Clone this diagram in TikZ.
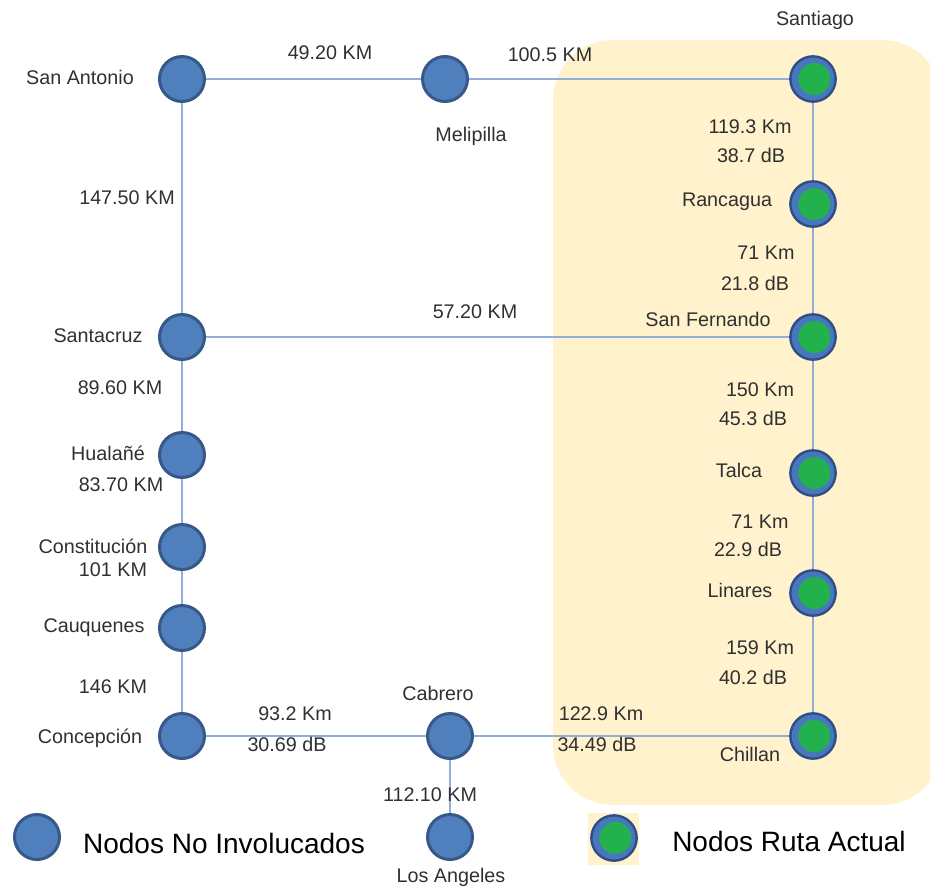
\documentclass[tikz,border=0pt]{standalone}
\usepackage{fontspec}
\setmainfont{Liberation Sans}
\definecolor{beige}{HTML}{FFF2CC}
\definecolor{linkc}{HTML}{92AED8}
\definecolor{nfill}{HTML}{4F7FBC}
\definecolor{nborder}{HTML}{36598A}
\definecolor{gring}{HTML}{4877BE}
\definecolor{gborder}{HTML}{2D4F86}
\definecolor{ggreen}{HTML}{22B14C}
\definecolor{txt}{HTML}{303030}
\begin{document}
\begin{tikzpicture}[x=0.75pt,y=-0.75pt,
  bnode/.style={circle, minimum size=33.75pt, inner sep=0pt, fill=nfill, draw=nborder, line width=2.25pt},
  gnode/.style={circle, minimum size=34pt, inner sep=0pt, fill=gring, draw=gborder, line width=1.8pt,
    path picture={\fill[ggreen] ([xshift=1pt]path picture bounding box.center) circle (12pt);}},
  link/.style={draw=linkc, line width=1.9pt},
  lbl/.style={font=\fontsize{14.8}{17}\selectfont, text=txt, inner sep=0pt},
  leg/.style={font=\fontsize{21}{25}\selectfont, text=black, inner sep=0pt}]
\useasboundingbox (0,0) rectangle (930,890);
% highlighted region
\fill[beige, rounded corners=45pt] (553,40) rectangle (942,805);
\fill[beige] (588,813) rectangle (639,865);

% nodes
\node[bnode] (sanantonio) at (182,79) {};
\node[bnode] (melipilla) at (445,79) {};
\node[gnode] (santiago) at (813,79) {};
\node[gnode] (rancagua) at (813,204) {};
\node[gnode] (sanfernando) at (813,337) {};
\node[gnode] (talca) at (813,473) {};
\node[gnode] (linares) at (813,593) {};
\node[gnode] (chillan) at (813,736) {};
\node[bnode] (santacruz) at (182,337) {};
\node[bnode] (hualane) at (182,455) {};
\node[bnode] (constitucion) at (182,547) {};
\node[bnode] (cauquenes) at (182,628) {};
\node[bnode] (concepcion) at (182,736) {};
\node[bnode] (cabrero) at (450,736) {};
\node[bnode] (losangeles) at (450,837) {};
\node[bnode] (legb) at (37,837) {};
\node[gnode] (legg) at (614,838) {};

% links
\draw[link] (sanantonio) -- (melipilla);
\draw[link] (melipilla) -- (santiago);
\draw[link] (santiago) -- (rancagua);
\draw[link] (rancagua) -- (sanfernando);
\draw[link] (sanfernando) -- (talca);
\draw[link] (talca) -- (linares);
\draw[link] (linares) -- (chillan);
\draw[link] (sanantonio) -- (santacruz);
\draw[link] (santacruz) -- (sanfernando);
\draw[link] (santacruz) -- (hualane);
\draw[link] (hualane) -- (constitucion);
\draw[link] (constitucion) -- (cauquenes);
\draw[link] (cauquenes) -- (concepcion);
\draw[link] (concepcion) -- (cabrero);
\draw[link] (cabrero) -- (chillan);
\draw[link] (cabrero) -- (losangeles);

% node labels
\node[lbl] (tsanantonio) at (80,77) {San Antonio};
\node[lbl] (tmelipilla) at (471,136) {Melipilla};
\node[lbl] (tsantiago) at (815,20) {Santiago};
\node[lbl] (trancagua) at (727,202) {Rancagua};
\node[lbl] (tsanfernando) at (708,319) {San Fernando};
\node[lbl] (ttalca) at (739,470) {Talca};
\node[lbl] (tlinares) at (740,590) {Linares};
\node[lbl] (tchillan) at (750,754) {Chillan};
\node[lbl] (tsantacruz) at (98,336) {Santacruz};
\node[lbl] (thualane) at (108,453) {Hualañé};
\node[lbl] (tconstitucion) at (93,546) {Constitución};
\node[lbl] (tcauquenes) at (94,628) {Cauquenes};
\node[lbl] (tconcepcion) at (90,738) {Concepción};
\node[lbl] (tcabrero) at (438,693) {Cabrero};
\node[lbl] (tlosangeles) at (451,877) {Los Angeles};

% distance labels
\node[lbl] (d1) at (330,53) {49.20 KM};
\node[lbl] (d2) at (550,55) {100.5 KM};
\node[lbl] (d3) at (127,198) {147.50 KM};
\node[lbl] (d4) at (475,312) {57.20 KM};
\node[lbl] (d5) at (120,388) {89.60 KM};
\node[lbl] (d6) at (121,485) {83.70 KM};
\node[lbl] (d7) at (113,570) {101 KM};
\node[lbl] (d8) at (113,687) {146 KM};
\node[lbl] (d9) at (430,795) {112.10 KM};
\node[lbl] (e1a) at (750,127) {119.3 Km};
\node[lbl] (e1b) at (751,155) {38.7 dB};
\node[lbl] (e2a) at (766,253) {71 Km};
\node[lbl] (e2b) at (755,283) {21.8 dB};
\node[lbl] (e3a) at (760,390) {150 Km};
\node[lbl] (e3b) at (753,418) {45.3 dB};
\node[lbl] (e4a) at (760,522) {71 Km};
\node[lbl] (e4b) at (748,549) {22.9 dB};
\node[lbl] (e5a) at (760,648) {159 Km};
\node[lbl] (e5b) at (753,677) {40.2 dB};
\node[lbl] (e6a) at (601,714) {122.9 Km};
\node[lbl] (e6b) at (597,744) {34.49 dB};
\node[lbl] (e7a) at (295,714) {93.2 Km};
\node[lbl] (e7b) at (287,744) {30.69 dB};

% legend
\node[leg] (legbt) at (224,843) {Nodos No Involucados};
\node[leg] (leggt) at (789,841) {Nodos Ruta Actual};
\end{tikzpicture}
\end{document}
